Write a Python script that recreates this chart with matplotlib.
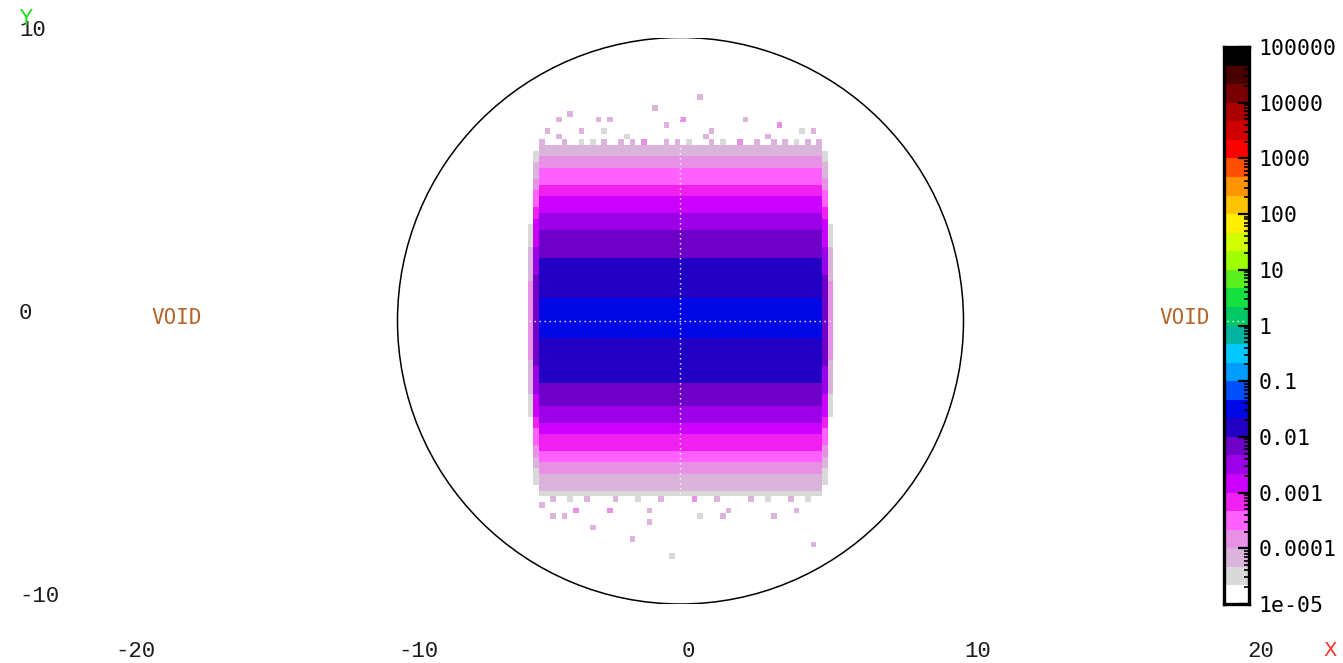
import numpy as np
import matplotlib
matplotlib.use("Agg")
import matplotlib.pyplot as plt
from matplotlib.colors import ListedColormap, BoundaryNorm
from matplotlib.patches import Circle
from matplotlib.ticker import LogLocator, NullFormatter
from matplotlib import transforms


# ── Colour scale: 3 bands per decade, 1e-05 .. 1e+05 ─────────────
band_colors = [
    "#ffffff", "#d9d9d9", "#dbb4db", "#e691e6", "#ff60ff", "#f020f0",
    "#cc00ff", "#9c00e6", "#6e00c8", "#2200c4", "#0008e6", "#0050ff",
    "#009cff", "#00c8ff", "#00b4a0", "#00c864", "#14e040", "#5af020",
    "#a0ff00", "#d2ff00", "#ffee00", "#ffc400", "#ff9400", "#ff5000",
    "#ff0000", "#d00000", "#aa0000", "#780000", "#480000", "#000000",
]
cbar_ticks = [1e-5, 1e-4, 1e-3, 1e-2, 1e-1, 1, 10, 100, 1000, 1e4, 1e5]
cbar_labels = ["1e-05", "0.0001", "0.001", "0.01", "0.1", "1",
               "10", "100", "1000", "10000", "100000"]

x_ticks = [-20, -10, 0, 10, 20]
y_ticks = [-10, 0, 10]

# ── Binned data (bin 0.2 x 0.2), log10 of the value ─────────────
# one value per row, same across the beam width (x in -5 .. 5)
row_y = [-6.1, -5.9, -5.7, -5.5, -5.3, -5.1, -4.9, -4.7, -4.5, -4.3,
         -4.1, -3.9, -3.7, -3.5, -3.3, -3.1, -2.9, -2.7, -2.5, -2.3,
         -2.1, -1.9, -1.7, -1.5, -1.3, -1.1, -0.9, -0.7, -0.5, -0.3,
         -0.1, 0.1, 0.3, 0.5, 0.7, 0.9, 1.1, 1.3, 1.5, 1.7,
         1.9, 2.1, 2.3, 2.5, 2.7, 2.9, 3.1, 3.3, 3.5, 3.7,
         3.9, 4.1, 4.3, 4.5, 4.7, 4.9, 5.1, 5.3, 5.5, 5.7,
         5.9, 6.1]
row_logv = [-4.55, -4.30, -4.15, -4.02, -3.90, -3.75, -3.60, -3.45, -3.28, -3.15,
            -3.02, -2.90, -2.75, -2.60, -2.45, -2.36, -2.28, -2.20, -2.12, -2.05,
            -1.98, -1.93, -1.88, -1.83, -1.79, -1.75, -1.72, -1.68, -1.64, -1.58,
            -1.52, -1.52, -1.56, -1.60, -1.65, -1.69, -1.73, -1.77, -1.81, -1.85,
            -1.90, -1.96, -2.02, -2.10, -2.18, -2.26, -2.32, -2.40, -2.50, -2.62,
            -2.72, -2.85, -2.98, -3.12, -3.28, -3.42, -3.52, -3.62, -3.75, -3.90,
            -4.08, -4.30]

# partly covered columns at the beam edges
col_x = [-5.3, -5.1, 5.1, 5.3]
col_shift = [-2.2, -0.5, -0.5, -2.2]

# isolated hits outside the dense part
stray_x = [0.7, -0.9, -3.9, -4.3, -2.9, -2.5, 0.1, 2.3, 3.5, -0.5,
           4.7, -4.7, -3.5, -2.7, 1.1, 4.3,
           -4.3, -1.9, 0.9, 3.1,
           -4.9, -4.1, -3.5, -2.7, -1.7, -1.3, -0.5, 0.3, 1.1, 2.1,
           2.7, 3.7, 4.5, 4.9, -3.1, -2.1, 1.5, 3.3, -0.1, 4.1,
           -0.3, 4.7, -1.7, -3.1, -1.1, -4.5, -4.1, 0.7, 1.5, 3.3,
           -2.5, -1.1, 1.7, 4.1, -3.7, -4.9,
           -4.5, -3.9, -3.3, -2.3, -1.5, -0.7, 0.5, 1.3, 2.5, 3.1,
           3.9, 4.5]
stray_y = [7.9, 7.5, 7.3, 7.1, 7.1, 7.1, 7.1, 7.1, 6.9, 6.9,
           6.7, 6.7, 6.7, 6.7, 6.7, 6.7,
           6.5, 6.5, 6.5, 6.5,
           6.3, 6.3, 6.3, 6.3, 6.3, 6.3, 6.3, 6.3, 6.3, 6.3,
           6.3, 6.3, 6.3, 6.3, 6.3, 6.3, 6.3, 6.3, 6.3, 6.3,
           -8.3, -7.9, -7.7, -7.3, -7.1, -6.9, -6.9, -6.9, -6.9, -6.9,
           -6.7, -6.7, -6.7, -6.7, -6.7, -6.5,
           -6.3, -6.3, -6.3, -6.3, -6.3, -6.3, -6.3, -6.3, -6.3, -6.3,
           -6.3, -6.3]
stray_logv = [-4.2, -4.2, -4.2, -4.2, -4.2, -4.2, -3.8, -4.2, -3.8, -4.2,
              -4.2, -4.2, -4.2, -4.5, -4.2, -4.5,
              -4.2, -4.5, -4.2, -4.2,
              -4.2, -4.2, -4.5, -4.2, -4.2, -3.8, -4.2, -4.5, -4.2, -3.8,
              -4.2, -4.2, -4.2, -4.2, -4.5, -4.2, -4.5, -4.2, -4.2, -4.5,
              -4.5, -4.2, -4.2, -4.2, -4.2, -4.2, -4.2, -4.5, -4.2, -4.2,
              -3.8, -4.2, -4.2, -4.2, -3.8, -4.2,
              -4.2, -4.5, -4.2, -4.2, -4.5, -4.2, -3.8, -4.2, -4.2, -4.5,
              -4.2, -4.5]

region_names = ["VOID", "VOID"]
region_x = [-17.8, 17.8]
region_y = [0.1, 0.1]

# ── Build the grid ───────────────────────────────────────────────
xe = np.round(np.arange(-5.4, 5.41, 0.2), 1)
ye = np.round(np.arange(-8.6, 8.61, 0.2), 1)
xc = (xe[:-1] + xe[1:]) / 2
yc = (ye[:-1] + ye[1:]) / 2

shift = np.full(len(xc), np.nan)
shift[(xc > -5.0) & (xc < 5.0)] = 0.0
for x, s in zip(col_x, col_shift):
    shift[np.argmin(np.abs(xc - x))] = s

grid = np.full((len(yc), len(xc)), np.nan)
for y, v in zip(row_y, row_logv):
    grid[np.argmin(np.abs(yc - y))] = v + shift
for x, y, v in zip(stray_x, stray_y, stray_logv):
    grid[np.argmin(np.abs(yc - y)), np.argmin(np.abs(xc - x))] = v
grid = np.ma.masked_where(~np.isfinite(grid) | (grid < -5), grid)

cmap = ListedColormap(band_colors)
levels = np.linspace(-5, 5, 31)
norm = BoundaryNorm(levels, cmap.N)

# ── Figure ───────────────────────────────────────────────────────
W, H = 1343, 663
fig = plt.figure(figsize=(W / 100, H / 100), dpi=100)
fig.patch.set_facecolor("white")

ax = fig.add_axes([114.5 / W, 59 / H, 1132 / W, 566.5 / H])
ax.set_xlim(-20, 20)
ax.set_ylim(-10, 10)
ax.set_axis_off()

ax.pcolormesh(xe, ye, grid, cmap=cmap, norm=norm, zorder=1)

ax.axhline(0, color="white", lw=1.0, ls=(0, (1, 2.6)), zorder=2)
ax.axvline(0, color="white", lw=1.0, ls=(0, (1, 2.6)), zorder=2)

ax.add_patch(Circle((0, 0), 10, fill=False, ec="black", lw=1.1, zorder=3))

for name, x, y in zip(region_names, region_x, region_y):
    ax.text(x, y, name, ha="center", va="center", color="#b5652a",
            family="DejaVu Sans Mono", fontsize=15)

# tick labels
lab_font = dict(family="Liberation Mono", fontsize=16, color="#1a1a1a")
xlab_tr = transforms.offset_copy(
    transforms.blended_transform_factory(ax.transData, ax.transAxes),
    fig=fig, x=1, y=0, units="dots")
for t in x_ticks:
    ax.text(t, -0.083, str(t), transform=xlab_tr, ha="left", va="center",
            clip_on=False, **lab_font)

ylab_tr = transforms.offset_copy(
    transforms.blended_transform_factory(fig.transFigure, ax.transData),
    fig=fig, x=0, y=7, units="dots")
for t in y_ticks:
    fig.text(19 / W, t, str(t), transform=ylab_tr, ha="left", va="center",
             **lab_font)

fig.text(25 / W, 1 - 19 / H, "Y", color="#22dd22", fontsize=15,
         ha="center", va="center")
fig.text(1330 / W, 1 - 650 / H, "X", color="#ff3333", fontsize=14,
         ha="center", va="center")

# ── Colour bar ───────────────────────────────────────────────────
cax = fig.add_axes([1224 / W, 59 / H, 25 / W, 557 / H])
cax.set_yscale("log")
cax.set_ylim(1e-5, 1e5)
cax.set_xlim(0, 1)
band_mid = (levels[:-1] + levels[1:]) / 2
cax.pcolormesh([0, 1], 10 ** levels, band_mid[:, None], cmap=cmap, norm=norm)

for sp in cax.spines.values():
    sp.set_linewidth(2.4)
cax.set_xticks([])
cax.yaxis.set_ticks_position("right")
cax.set_yticks(cbar_ticks, labels=cbar_labels)
cax.yaxis.set_minor_locator(LogLocator(base=10, subs=np.arange(2, 10), numticks=40))
cax.yaxis.set_minor_formatter(NullFormatter())
cax.tick_params(axis="y", which="major", direction="in", length=8, width=1.6,
                pad=7, labelsize=15.5, right=True, left=False)
cax.tick_params(axis="y", which="minor", direction="in", length=3.5,
                width=1.2, right=True, left=False)
for lab in cax.get_yticklabels():
    lab.set_family("DejaVu Sans Mono")

# the y = 0 cross-hair also shows on the colour bar
cb_tr = transforms.blended_transform_factory(cax.transAxes, ax.transData)
cax.plot([0.1, 0.9], [0, 0], transform=cb_tr, color="white", lw=1.0,
         ls=(0, (1, 2.6)), zorder=5)

fig.savefig("out.png", dpi=100)
